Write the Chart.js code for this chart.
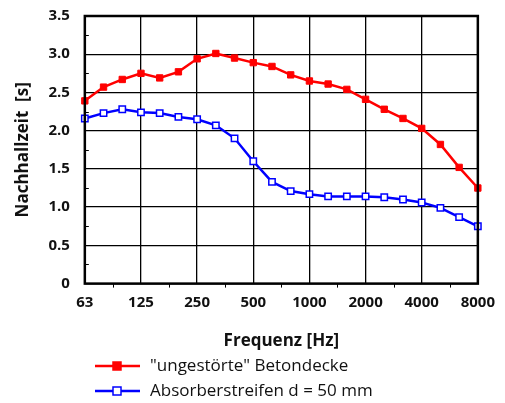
<!DOCTYPE html>
<html>
<head>
<meta charset="utf-8">
<script src="https://cdn.jsdelivr.net/npm/chart.js@4/dist/chart.umd.min.js"></script>
<style>
  html, body { margin: 0; padding: 0; background: #fff; }
  #wrap { width: 505px; height: 403px; position: relative; }
</style>
</head>
<body>
<div id="wrap"><canvas id="chart"></canvas></div>
<script>
// third-octave band centre frequencies
const frequencies = ["63", "80", "100", "125", "160", "200", "250", "315", "400", "500", "630",
    "800", "1000", "1250", "1600", "2000", "2500", "3150", "4000", "5000", "6300", "8000"];

// reverberation time [s]
const betondecke = [2.39, 2.57, 2.67, 2.75, 2.69, 2.77, 2.94, 3.01, 2.95, 2.89, 2.84,
    2.73, 2.65, 2.61, 2.54, 2.41, 2.28, 2.16, 2.03, 1.82, 1.52, 1.25];
const absorber = [2.16, 2.23, 2.28, 2.24, 2.23, 2.18, 2.15, 2.07, 1.90, 1.60, 1.33,
    1.21, 1.17, 1.14, 1.14, 1.14, 1.13, 1.10, 1.06, 0.99, 0.87, 0.75];

const yTicks = [0, 0.5, 1, 1.5, 2, 2.5, 3, 3.5];

const FONT = "'Open Sans', 'Noto Sans', sans-serif";

// minor ticks + frame + legend underneath
const extras = {
    id: "extras",
    afterDraw(chart) {
        const ctx = chart.ctx;
        const area = chart.chartArea;
        const y = chart.scales.y;
        const x = chart.scales.x;
        ctx.save();
        ctx.strokeStyle = "#000";
        ctx.lineWidth = 1;
        // y minor ticks
        for (let v = 0.25; v < 3.5; v += 0.5) {
            const py = Math.round(y.getPixelForValue(v)) + 0.5;
            ctx.beginPath();
            ctx.moveTo(area.left, py);
            ctx.lineTo(area.left + 4, py);
            ctx.stroke();
        }
        // x minor ticks (half octave)
        for (let i = 1.5; i < frequencies.length - 1; i += 3) {
            const px = Math.round(x.getPixelForValue(i)) + 0.5;
            ctx.beginPath();
            ctx.moveTo(px, area.bottom);
            ctx.lineTo(px, area.bottom + 4);
            ctx.stroke();
        }
        // frame
        ctx.lineWidth = 2.5;
        ctx.strokeRect(area.left, area.top, area.right - area.left, area.bottom - area.top);

        // legend
        const rows = [366, 391];
        chart.data.datasets.forEach(function (ds, i) {
            const ly = rows[i];
            ctx.strokeStyle = ds.borderColor;
            ctx.lineWidth = 2.5;
            ctx.beginPath();
            ctx.moveTo(95, ly);
            ctx.lineTo(140, ly);
            ctx.stroke();
            ctx.fillStyle = ds.pointBackgroundColor;
            ctx.strokeStyle = ds.pointBorderColor;
            ctx.lineWidth = 1.5;
            ctx.fillRect(113, ly - 4, 8, 8);
            ctx.strokeRect(113, ly - 4, 8, 8);
            ctx.fillStyle = "#111";
            ctx.font = "17px " + FONT;
            ctx.textBaseline = "middle";
            ctx.fillText(ds.label, 150, ly);
        });
        ctx.restore();
    }
};

new Chart(document.getElementById("chart"), {
    type: "line",
    data: {
        labels: frequencies,
        datasets: [
            {
                label: "\"ungestörte\" Betondecke",
                data: betondecke,
                borderColor: "#ff0000",
                backgroundColor: "#ff0000",
                pointBackgroundColor: "#ff0000",
                pointBorderColor: "#ff0000",
                pointStyle: "rect",
                pointRadius: 4.5,
                borderWidth: 2.5,
                pointBorderWidth: 1,
            },
            {
                label: "Absorberstreifen d = 50 mm",
                data: absorber,
                borderColor: "#0000ff",
                backgroundColor: "#ffffff",
                pointBackgroundColor: "#ffffff",
                pointBorderColor: "#0000ff",
                pointStyle: "rect",
                pointRadius: 4.5,
                borderWidth: 2.5,
                pointBorderWidth: 1.5,
            },
        ],
    },
    options: {
        responsive: true,
        maintainAspectRatio: false,
        animation: false,
        layout: { padding: { top: 16, right: 20, bottom: 52, left: 13 } },
        scales: {
            x: {
                offset: false,
                grid: {
                    color: function (c) { return c.index % 3 === 0 ? "#000" : "rgba(0,0,0,0)"; },
                    lineWidth: 1.3,
                    drawTicks: false,
                },
                border: { display: false },
                ticks: {
                    autoSkip: false,
                    maxRotation: 0,
                    padding: 10,
                    color: "#111",
                    font: { family: FONT, size: 15, weight: "bold" },
                    callback: function (v, i) { return i % 3 === 0 ? frequencies[i] : ""; },
                },
                title: {
                    display: true,
                    text: "Frequenz [Hz]",
                    color: "#111",
                    font: { family: FONT, size: 17, weight: "bold" },
                    padding: { top: 9, bottom: 0 },
                },
            },
            y: {
                min: 0,
                max: 3.5,
                afterBuildTicks: function (axis) {
                    axis.ticks = yTicks.map(function (v) { return { value: v }; });
                },
                afterFit: function (axis) {
                    axis.paddingTop = 0;
                },
                grid: { color: "#000", lineWidth: 1.3, drawTicks: false },
                border: { display: false },
                ticks: {
                    padding: 15,
                    color: "#111",
                    font: { family: FONT, size: 15, weight: "bold" },
                    callback: function (v) { return v === 0 ? "0" : v.toFixed(1); },
                },
                title: {
                    display: true,
                    text: "Nachhallzeit  [s]",
                    color: "#111",
                    font: { family: FONT, size: 17, weight: "bold" },
                    padding: { top: 0, bottom: 0 },
                },
            },
        },
        plugins: {
            legend: { display: false },
            tooltip: { enabled: false },
        },
    },
    plugins: [extras],
});
</script>
</body>
</html>
